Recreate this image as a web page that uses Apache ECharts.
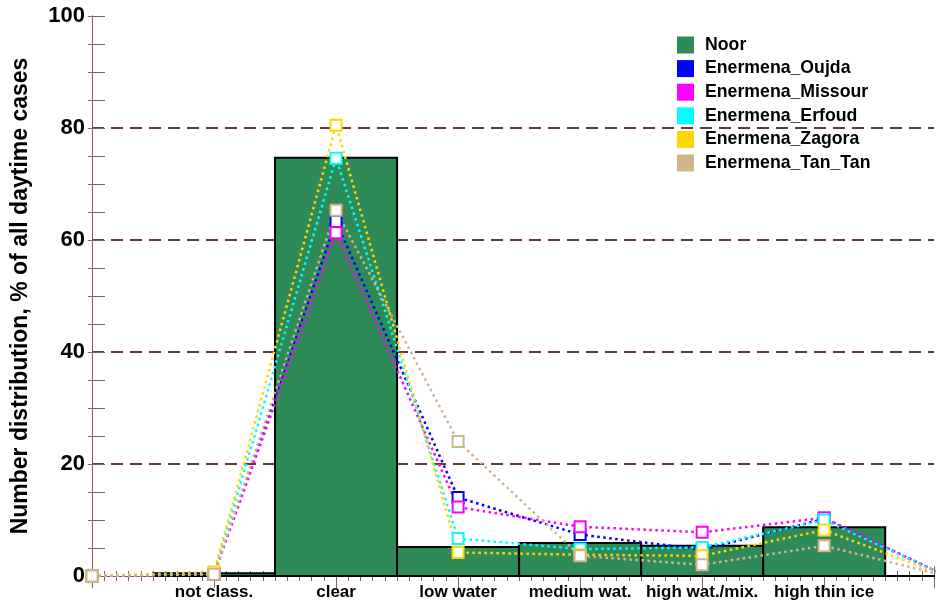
<!DOCTYPE html>
<html>
<head>
<meta charset="utf-8">
<script src="https://cdn.jsdelivr.net/npm/echarts@6/dist/echarts.min.js"></script>
<style>
  html, body { margin: 0; padding: 0; background: #fff; }
  #chart { width: 937px; height: 602px; }
</style>
</head>
<body>
<div id="chart"></div>
<script>
// cloud classes, one bar/point per class (x = 1..6)
const categories = ['not class.', 'clear', 'low water', 'medium wat.', 'high wat./mix.', 'high thin ice'];
const noor = [0.5, 74.7, 5.2, 5.9, 5.4, 8.7];

const stations = ['Enermena_Oujda', 'Enermena_Missour', 'Enermena_Erfoud', 'Enermena_Zagora', 'Enermena_Tan_Tan'];
const oujda   = [0.3, 63.3, 14.0, 7.4, 4.7, 10.2];
const missour = [0.3, 61.3, 12.3, 8.8, 7.8, 10.4];
const erfoud  = [0.4, 74.6, 6.7, 4.8, 5.1, 10.0];
const zagora  = [0.7, 80.5, 4.2, 3.8, 3.6, 8.2];
const tantan  = [0.3, 65.3, 24.0, 3.6, 2.0, 5.4];

const stationColors = ['#0000ff', '#ff00ff', '#00ffff', '#ffd700', '#d2b48c'];
const noorColor = '#2e8b57';
const brown = '#8c5a5a';
const font = '"Liberation Sans", Arial, Helvetica, sans-serif';

const chart = echarts.init(document.getElementById('chart'), null, { renderer: 'canvas' });

// line points: zero at both ends (x = 0 and x = 7)
function withEnds(vals) {
  const pts = [[0, 0]];
  vals.forEach((v, i) => pts.push([i + 1, v]));
  pts.push([categories.length + 1, 0]);
  return pts;
}

const noorData = noor.map((v, i) => [i + 1, v]);
noorData.push([categories.length + 1, 0]);

const series = [{
  name: 'Noor',
  type: 'custom',
  data: noorData,
  z: 2,
  renderItem(params, api) {
    const x = api.value(0), v = api.value(1);
    const p0 = api.coord([x - 0.5, v]);
    const p1 = api.coord([x + 0.5, 0]);
    const shape = echarts.graphic.clipRectByRect(
      { x: p0[0], y: p0[1], width: p1[0] - p0[0], height: Math.max(p1[1] - p0[1], 0.01) },
      { x: params.coordSys.x, y: params.coordSys.y - 2, width: params.coordSys.width, height: params.coordSys.height + 4 }
    );
    if (!shape) return;
    return { type: 'rect', shape, style: { fill: noorColor, stroke: '#000', lineWidth: 2 } };
  }
}];

[oujda, missour, erfoud, zagora, tantan].forEach((vals, i) => {
  series.push({
    name: stations[i],
    type: 'line',
    data: withEnds(vals),
    z: 3,
    symbol: 'emptyRect',
    symbolSize: 11,
    showAllSymbol: true,
    color: stationColors[i],
    itemStyle: { color: stationColors[i], borderWidth: 2 },
    lineStyle: { color: stationColors[i], width: 2.5, type: [2.5, 3.5] },
    emphasis: { disabled: true },
    animation: false
  });
});

const legendData = ['Noor'].concat(stations).map((n, i) => ({
  name: n,
  icon: 'rect',
  itemStyle: { color: i === 0 ? noorColor : stationColors[i - 1], borderWidth: 0 }
}));

const xBase = {
  type: 'value',
  min: 0,
  max: 6.9,
  interval: 1,
  splitLine: { show: false }
};
const yBase = {
  type: 'value',
  min: 0,
  max: 100,
  interval: 20
};

chart.setOption({
  animation: false,
  grid: { left: 92, right: -1, top: 16, bottom: 26, containLabel: false },
  legend: {
    orient: 'vertical',
    left: 672,
    top: 31,
    itemWidth: 17,
    itemHeight: 17,
    itemGap: 5.6,
    selectedMode: false,
    textStyle: { fontFamily: font, fontWeight: 'bold', fontSize: 17.7, color: '#000', padding: [0, 0, 0, 6] },
    data: legendData
  },
  xAxis: [
    Object.assign({}, xBase, {
      position: 'bottom',
      axisLine: { show: true, lineStyle: { color: brown, width: 1 } },
      axisTick: { show: true, inside: true, length: 10, lineStyle: { color: brown } },
      minorTick: { show: true, splitNumber: 10, length: 5, lineStyle: { color: brown } },
      axisLabel: {
        margin: 8,
        fontFamily: font, fontWeight: 'bold', fontSize: 17, color: '#000',
        formatter: v => (Number.isInteger(v) && v >= 1 && v <= categories.length) ? categories[v - 1] : ''
      }
    }),
    Object.assign({}, xBase, {
      position: 'top',
      axisLine: { show: true, lineStyle: { color: brown, width: 1 } },
      axisTick: { show: true, inside: true, length: 12, lineStyle: { color: brown } },
      minorTick: { show: true, splitNumber: 10, length: 5, lineStyle: { color: brown } },
      axisLabel: { show: false }
    })
  ],
  yAxis: [
    Object.assign({}, yBase, {
      position: 'left',
      name: 'Number distribution, % of all daytime cases',
      nameLocation: 'middle',
      nameGap: 60,
      nameTextStyle: { fontFamily: font, fontWeight: 'bold', fontSize: 23, color: '#000' },
      axisLine: { show: true, lineStyle: { color: brown, width: 1 } },
      axisTick: { show: true, inside: true, length: 13, lineStyle: { color: brown } },
      minorTick: { show: true, splitNumber: 4, length: 13, lineStyle: { color: brown } },
      axisLabel: { margin: 7, fontFamily: font, fontWeight: 'bold', fontSize: 22, color: '#000' },
      splitLine: {
        show: true, showMinLine: false, showMaxLine: false,
        lineStyle: { color: '#6b3535', width: 2, type: [12, 7] }
      }
    }),
    Object.assign({}, yBase, {
      position: 'right',
      axisLine: { show: true, lineStyle: { color: brown, width: 1 } },
      axisTick: { show: true, inside: true, length: 4, lineStyle: { color: brown } },
      minorTick: { show: true, splitNumber: 4, length: 4, lineStyle: { color: brown } },
      axisLabel: { show: false },
      splitLine: { show: false }
    })
  ],
  series
});
</script>
</body>
</html>
